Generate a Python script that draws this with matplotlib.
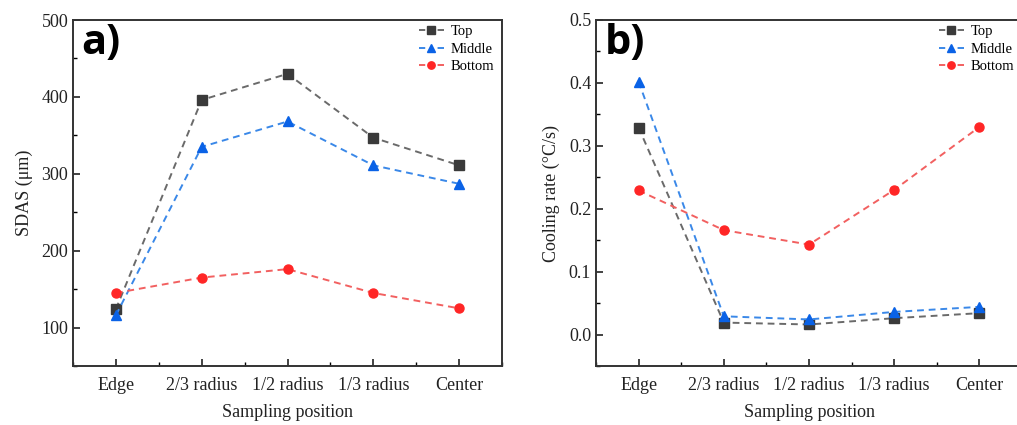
import matplotlib
matplotlib.use("Agg")
import matplotlib.pyplot as plt
from matplotlib.ticker import MultipleLocator
from matplotlib.lines import Line2D

positions = ["Edge", "2/3 radius", "1/2 radius", "1/3 radius", "Center"]
series_names = ["Top", "Middle", "Bottom"]

sdas_top = [124, 396, 430, 347, 311]
sdas_middle = [116, 335, 368, 311, 287]
sdas_bottom = [145, 165, 176, 145, 125]

cool_top = [0.329, 0.019, 0.016, 0.026, 0.034]
cool_middle = [0.402, 0.029, 0.024, 0.036, 0.044]
cool_bottom = [0.229, 0.166, 0.143, 0.230, 0.330]

line_colors = ["#6a6a6a", "#3a88e8", "#f26060"]
marker_colors = ["#3a3a3a", "#0a62e6", "#ff2626"]
markers = ["s", "^", "o"]

plt.rcParams['font.family'] = ['Liberation Serif', 'DejaVu Serif']

fig = plt.figure(figsize=(10.17, 4.25), dpi=100)
ax_a = fig.add_axes([73/1017, 1-366/425, 429/1017, 346/425])
ax_b = fig.add_axes([596/1017, 1-366/425, 426/1017, 346/425])

def draw(ax, data, ylim, major, minor, ylabel, label):
    x = list(range(len(positions)))
    handles = []
    for vals, name, lc, mc, mk in zip(data, series_names, line_colors, marker_colors, markers):
        ax.plot(x, vals, linestyle=(0, (3.5, 2.5)), color=lc, lw=1.4,
                marker=mk, markersize=6.5, markerfacecolor=mc, markeredgecolor=mc)
        handles.append(Line2D([], [], linestyle=(0, (3.2, 6.35, 3.2, 0.0)), color=lc, lw=1.4,
                              marker=mk, markersize=5.3, markerfacecolor=mc,
                              markeredgecolor=mc, label=name))
    ax.set_xlim(-0.5, 4.5)
    ax.set_ylim(*ylim)
    ax.set_xticks(x)
    ax.set_xticklabels(positions, fontsize=13)
    ax.xaxis.set_minor_locator(MultipleLocator(0.5))
    ax.yaxis.set_major_locator(MultipleLocator(major))
    ax.yaxis.set_minor_locator(MultipleLocator(minor))
    ax.tick_params(axis='both', which='major', direction='in', length=5, width=1.2,
                   labelsize=13, colors='#222222')
    ax.tick_params(axis='both', which='minor', direction='in', length=3, width=1.0)
    ax.tick_params(axis='x', which='major', pad=8)
    ax.tick_params(axis='x', which='minor', bottom=True)
    ax.tick_params(axis='both', which='both', top=False, right=False)
    for s in ax.spines.values():
        s.set_linewidth(1.4)
        s.set_color('#333333')
    ax.set_xlabel("Sampling position", fontsize=13, labelpad=7, color='#222222')
    ax.set_ylabel(ylabel, fontsize=13, labelpad=6, color='#222222')
    ax.text(0.02, 0.99, label, transform=ax.transAxes, ha='left', va='top',
            fontsize=30, fontweight='bold', family=['Open Sans', 'DejaVu Sans'])
    ax.legend(handles=handles, loc='upper right', bbox_to_anchor=(1.005, 1.015),
              frameon=False, fontsize=10.5, handlelength=1.7, handletextpad=0.45,
              labelspacing=0.3, borderaxespad=0.3)

draw(ax_a, [sdas_top, sdas_middle, sdas_bottom], (50, 500), 100, 50,
     "SDAS (μm)", "a)")
draw(ax_b, [cool_top, cool_middle, cool_bottom], (-0.05, 0.5), 0.1, 0.05,
     "Cooling rate (°C/s)", "b)")
ax_b.yaxis.set_major_formatter(matplotlib.ticker.FormatStrFormatter('%.1f'))

fig.savefig("out.png", dpi=100)
